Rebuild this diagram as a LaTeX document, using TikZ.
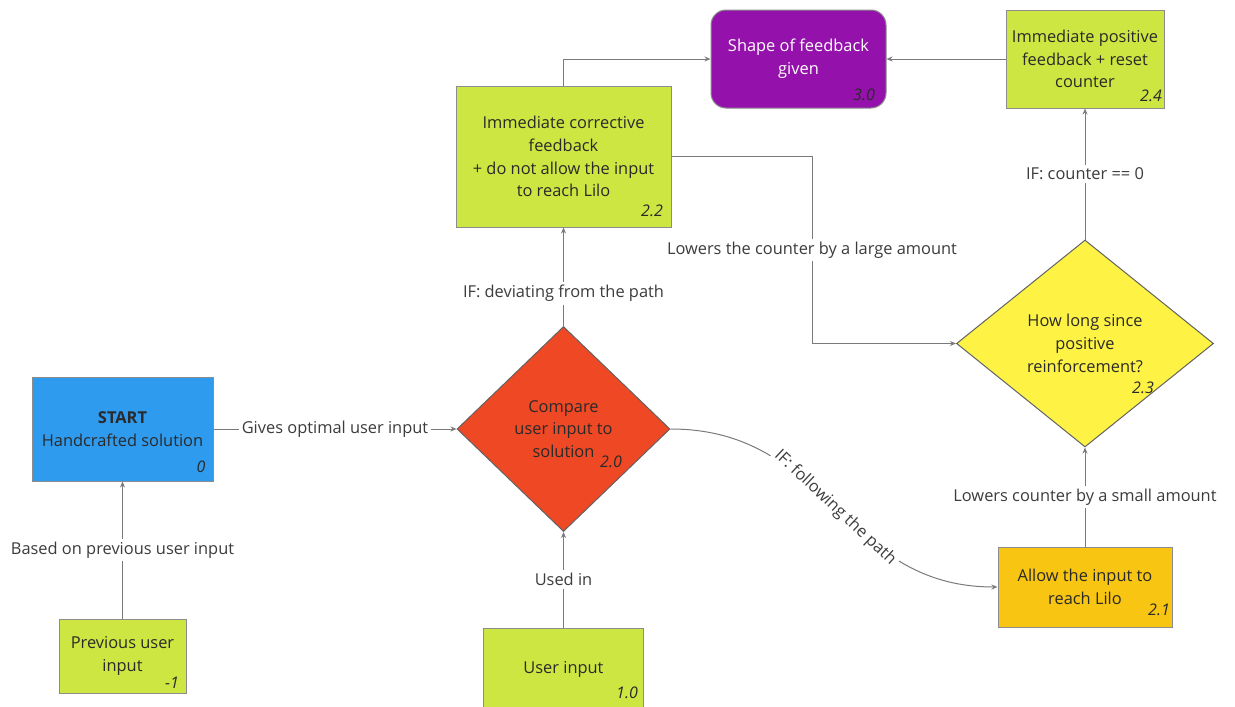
\documentclass[tikz,border=0pt]{standalone}
\usepackage{fontspec}
\setmainfont{Open Sans}
\usetikzlibrary{shapes.geometric,arrows.meta}
\definecolor{cblue}{HTML}{2F9BEF}
\definecolor{cgreen}{HTML}{CEE641}
\definecolor{cred}{HTML}{EF4824}
\definecolor{cpurple}{HTML}{9412AB}
\definecolor{cyellow}{HTML}{FEF345}
\definecolor{camber}{HTML}{F8C512}
\definecolor{cline}{HTML}{7A7A7A}
\definecolor{cborder}{HTML}{8C8C8C}
\definecolor{ctext}{HTML}{2A2A2A}
\definecolor{clabel}{HTML}{3C3C3C}
\begin{document}
\begin{tikzpicture}[x=1pt,y=-1pt,
  txt/.style={font=\fontsize{16.4}{22.7}\selectfont, text=ctext, align=center},
  box/.style={txt, draw=cborder, line width=1pt, rectangle, inner sep=0pt},
  dia/.style={txt, draw=cborder!70!black, line width=1pt, diamond, inner sep=0pt},
  num/.style={font=\fontsize{16}{18}\selectfont\itshape, text=ctext, inner sep=0pt},
  lbl/.style={font=\fontsize{16.4}{19}\selectfont, text=clabel, fill=white, inner sep=3pt},
  conn/.style={draw=cline, line width=1pt, -{Stealth[length=6pt,width=5pt]}}
]
\useasboundingbox (0,0) rectangle (1235,707);

% nodes
\node[box, fill=cblue, minimum width=181, minimum height=104] (start) at (122.5,429)
  {\textbf{START}\\Handcrafted solution};
\node[num] at (201,467) {0};

\node[box, fill=cgreen, minimum width=127, minimum height=74] (prev) at (122.5,656)
  {Previous user\\input};
\node[num] at (172,683) {-1};

\node[dia, fill=cred, minimum width=213, minimum height=205] (compare) at (563.5,429)
  {Compare\\user input to\\solution};
\node[num] at (611,462) {2.0};

\node[box, fill=cgreen, minimum width=160, minimum height=82] (userin) at (563.5,669)
  {User input};
\node[num] at (627,693) {1.0};

\node[box, fill=cgreen, minimum width=215, minimum height=141] (corr) at (563.5,156.5)
  {Immediate corrective\\feedback\\+ do not allow the input\\to reach Lilo};
\node[num] at (652,211) {2.2};

\node[box, fill=cpurple, text=white, rounded corners=15, minimum width=175, minimum height=98] (shape) at (798.5,59)
  {Shape of feedback\\given};
\node[num] at (864,95) {3.0};

\node[box, fill=cgreen, minimum width=158, minimum height=98] (pos) at (1085,59)
  {Immediate positive\\feedback + reset\\counter};
\node[num] at (1151,96) {2.4};

\node[dia, fill=cyellow, minimum width=257, minimum height=207] (howlong) at (1085,343.5)
  {How long since\\positive\\reinforcement?};
\node[num] at (1143,388) {2.3};

\node[box, fill=camber, minimum width=174, minimum height=80] (allow) at (1085,587)
  {Allow the input to\\reach Lilo};
\node[num] at (1159,610) {2.1};

\coordinate (bend) at (812,343.5);

% connectors
\draw[conn] (prev) -- node[lbl]{Based on previous user input} (start);
\draw[conn] (start.east) -- node[lbl]{Gives optimal user input} (compare.west);
\draw[conn] (userin) -- node[lbl]{Used in} (compare.south);
\draw[conn] (compare.north) -- node[lbl, pos=0.33]{IF: deviating from the path} (corr.south);
\draw[conn] (corr.north) |- (shape.west);
\draw[conn] (pos.west) -- (shape.east);
\draw[conn] (corr.east) -| node[lbl, pos=0.75]{Lowers the counter by a large amount} (bend) -- (howlong.west);
\draw[conn] (howlong.north) -- node[lbl]{IF: counter == 0} (pos.south);
\draw[conn] (allow.north) -- node[lbl]{Lowers counter by a small amount} (howlong.south);
\draw[conn] (compare.east) .. controls +(160,0) and +(-157,0) .. node[lbl, sloped]{IF: following the path} (allow.west);
\end{tikzpicture}
\end{document}
